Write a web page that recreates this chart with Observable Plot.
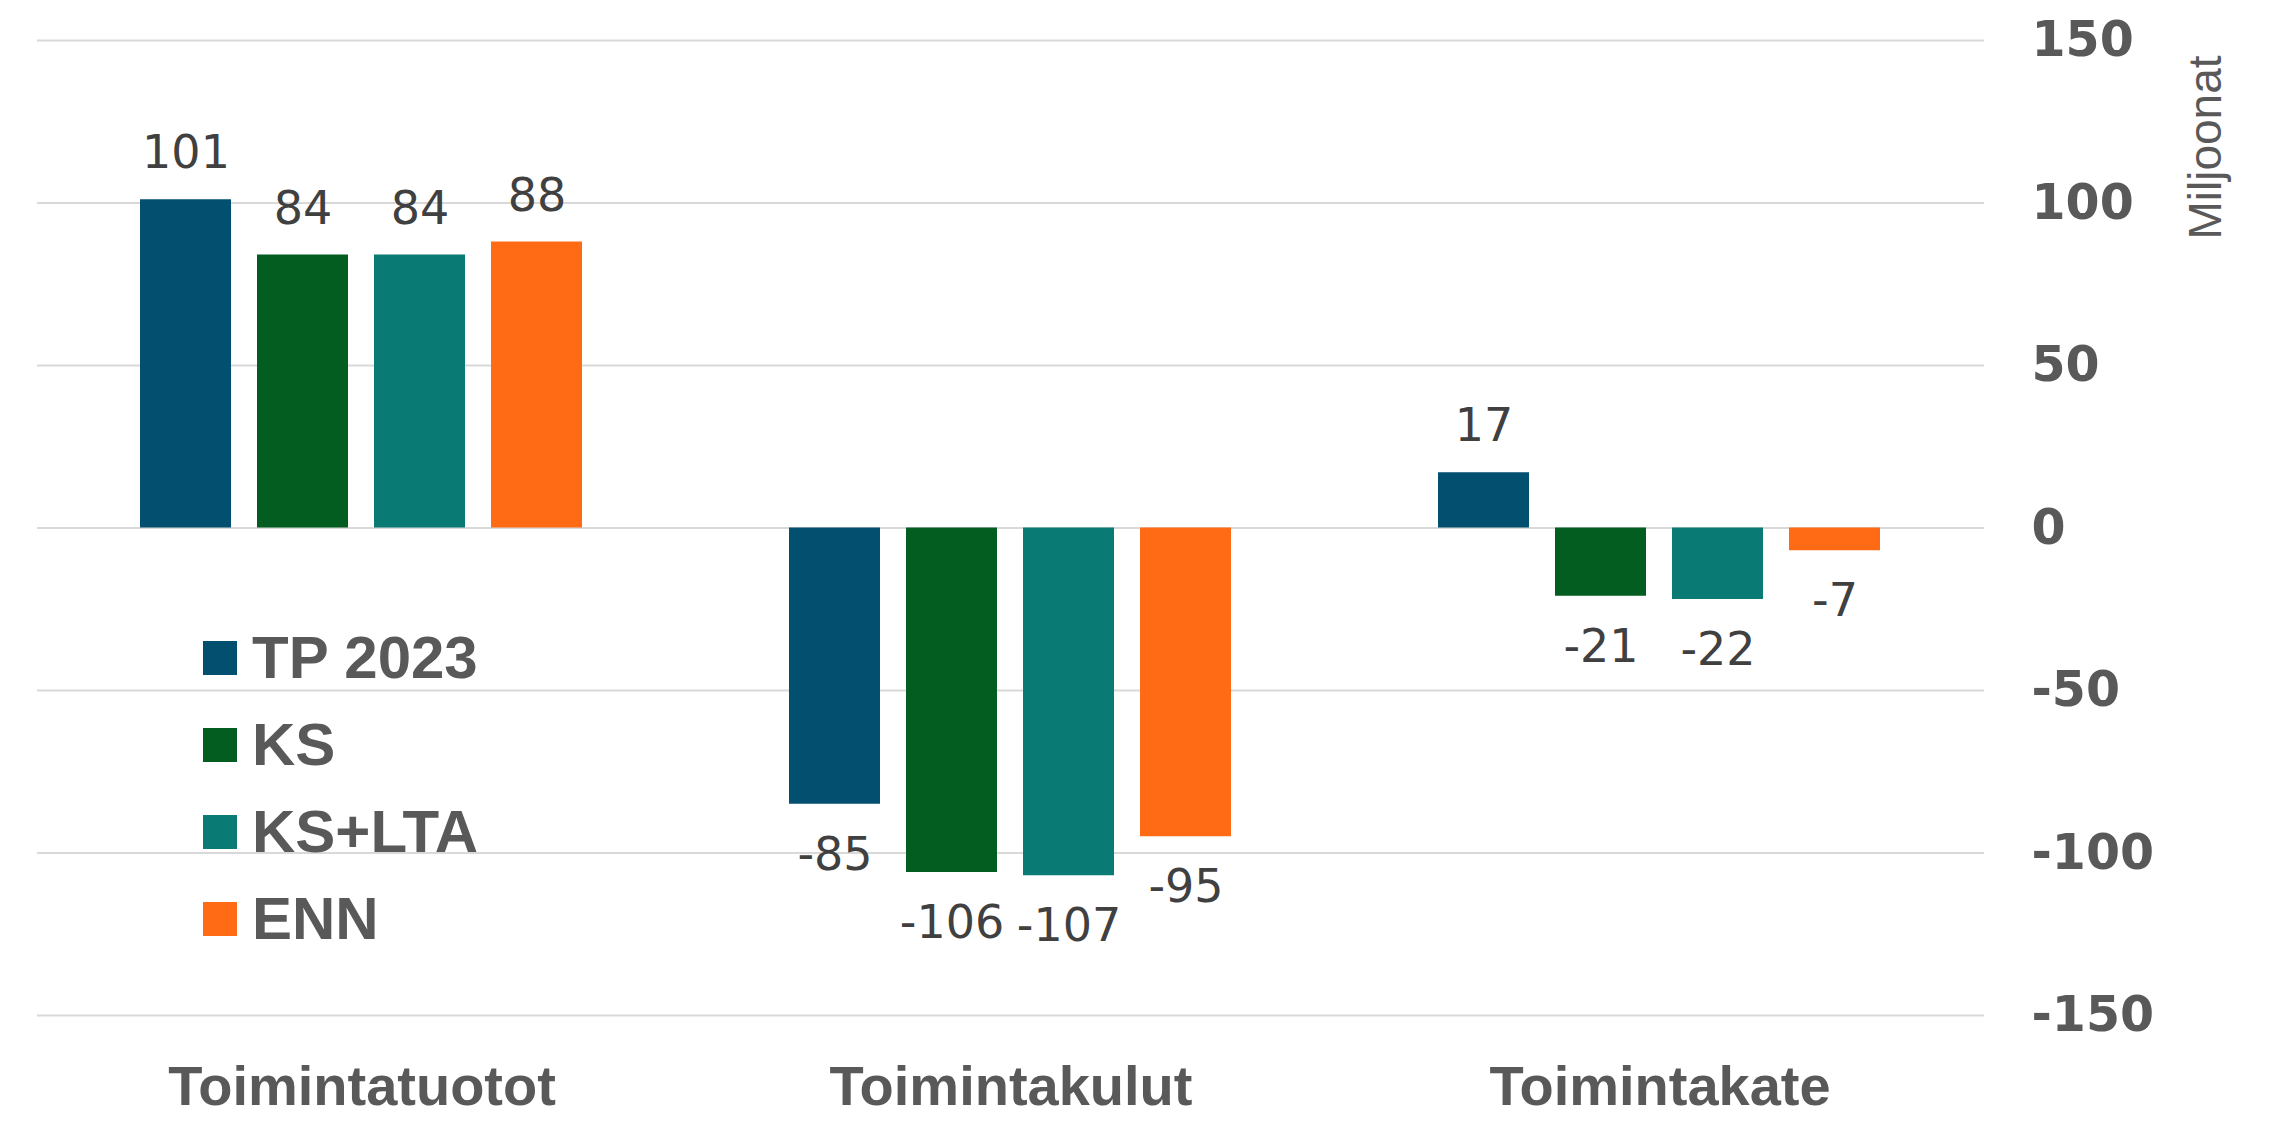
<!DOCTYPE html>
<html>
<head>
<meta charset="utf-8">
<script src="https://cdn.jsdelivr.net/npm/d3@7"></script>
<script src="https://cdn.jsdelivr.net/npm/@observablehq/plot@0.6"></script>
<style>
  html, body { margin: 0; padding: 0; background: #fff; }
  #wrap { position: relative; width: 2270px; height: 1122px; }
  #legend { position: absolute; left: 203px; top: 614px; font-family: "Liberation Sans", Arial, sans-serif; font-size: 60px; font-weight: bold; color: #595959; }
  .item { display: flex; align-items: center; height: 87px; }
  .sw { width: 34px; height: 34px; margin-right: 15px; }
</style>
</head>
<body>
<div id="wrap"><div id="legend"></div></div>
<script>
const categories = ["Toimintatuotot", "Toimintakulut", "Toimintakate"];
const series = ["TP 2023", "KS", "KS+LTA", "ENN"];
const tp2023 = [101, -85, 17];
const ks = [84, -106, -21];
const ksLta = [84, -107, -22];
const enn = [88, -95, -7];
const seriesColors = ["#034f6f", "#035d21", "#097a74", "#ff6b15"];
const yTicks = [150, 100, 50, 0, -50, -100, -150];
const unitLabel = "Miljoonat";

const valuesBySeries = [tp2023, ks, ksLta, enn];
const data = [];
categories.forEach((c, ci) => {
  series.forEach((s, si) => {
    data.push({category: c, series: s, value: valuesBySeries[si][ci]});
  });
});

const chart = Plot.plot({
  width: 2270,
  height: 1122,
  marginTop: 40,
  marginBottom: 107,
  marginLeft: 36,
  marginRight: 286,
  style: {background: "#fff", color: "#595959"},
  fx: {domain: categories, padding: 0, label: null},
  x: {domain: series, paddingInner: 0.22, paddingOuter: 0.88, axis: null},
  y: {domain: [-150, 150], axis: null},
  color: {domain: series, range: seriesColors},
  marks: [
    Plot.ruleY(yTicks, {stroke: "#d9d9d9", strokeWidth: 2}),
    Plot.barY(data, {fx: "category", x: "series", y: "value", fill: "series"}),
    Plot.text(data.filter(d => d.value >= 0), {
      fx: "category", x: "series", y: "value", text: d => String(d.value),
      dy: -46, lineAnchor: "middle", fontSize: 46, fill: "#404040",
      fontFamily: "DejaVu Sans"
    }),
    Plot.text(data.filter(d => d.value < 0), {
      fx: "category", x: "series", y: "value", text: d => String(d.value),
      dy: 51, lineAnchor: "middle", fontSize: 46, fill: "#404040",
      fontFamily: "DejaVu Sans"
    }),
    Plot.axisY({
      anchor: "right", ticks: yTicks, tickSize: 0, tickPadding: 47,
      tickFormat: d => String(d), textAnchor: "start",
      fontSize: 49, fontWeight: "bold", fontFamily: "DejaVu Sans", label: null
    }),
    Plot.text([unitLabel], {
      facet: "super", frameAnchor: "top-right", text: d => d, rotate: -90,
      textAnchor: "end", lineAnchor: "middle", dx: 222, dy: 15,
      fontSize: 46, fill: "#595959", fontFamily: "Liberation Sans"
    }),
    Plot.axisFx({
      anchor: "bottom", tickSize: 0, tickPadding: 50, label: null,
      fontSize: 56, fontWeight: "bold", fontFamily: "Liberation Sans"
    })
  ]
});
document.getElementById("wrap").prepend(chart);

const legend = document.getElementById("legend");
series.forEach((s, i) => {
  const row = document.createElement("div");
  row.className = "item";
  const sw = document.createElement("div");
  sw.className = "sw";
  sw.style.background = seriesColors[i];
  const lab = document.createElement("span");
  lab.textContent = s;
  row.appendChild(sw);
  row.appendChild(lab);
  legend.appendChild(row);
});
</script>
</body>
</html>
